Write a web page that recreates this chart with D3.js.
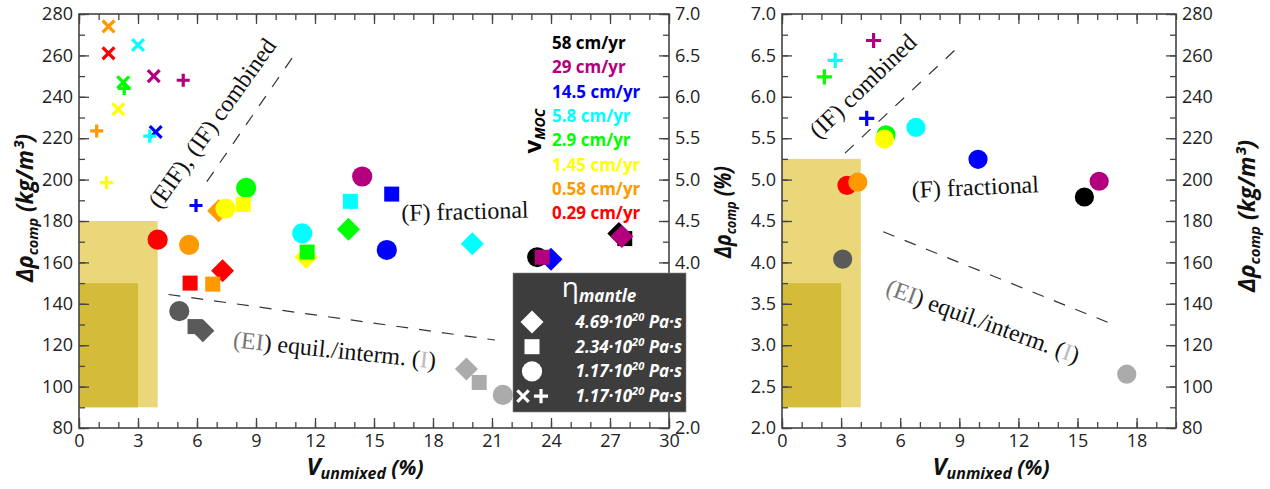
<!DOCTYPE html>
<html>
<head>
<meta charset="utf-8">
<script src="https://cdn.jsdelivr.net/npm/d3@7"></script>
<style>
  body { margin: 0; background: #fff; }
  text { font-family: "Open Sans", "DejaVu Sans", sans-serif; }
</style>
</head>
<body>
<div id="chart"></div>
<script>
// vMOC categories, top to bottom in the legend
const speedKeys = ["58", "29", "14.5", "5.8", "2.9", "1.45", "0.58", "0.29"];
const speedLabels = ["58 cm/yr", "29 cm/yr", "14.5 cm/yr", "5.8 cm/yr", "2.9 cm/yr", "1.45 cm/yr", "0.58 cm/yr", "0.29 cm/yr"];
// gray points: equilibrium (EI) and intermediate (I)
const regimeKeys = ["EI", "I"];

// mantle viscosity legend
const etaShapes = ["diamond", "square", "circle", "timesplus"];
const etaMantissa = ["4.69", "2.34", "1.17", "1.17"];
const etaExponent = "20";

// left panel: [vMOC, shape, Vunmixed (%), Δρcomp (kg/m³)]
const leftPoints = [
    ["0.58", "times", 1.5, 274],
    ["0.29", "times", 1.5, 261],
    ["5.8", "times", 3.0, 265],
    ["2.9", "times", 2.25, 247],
    ["2.9", "plus", 2.3, 244],
    ["29", "times", 3.8, 250],
    ["29", "plus", 5.3, 248],
    ["1.45", "times", 2.0, 234],
    ["0.58", "plus", 0.9, 223.5],
    ["14.5", "times", 3.9, 223],
    ["5.8", "plus", 3.6, 221],
    ["1.45", "plus", 1.4, 198.5],
    ["14.5", "plus", 5.95, 187.5],
    ["2.9", "circle", 8.5, 196],
    ["1.45", "square", 8.35, 188],
    ["0.58", "diamond", 7.1, 185],
    ["1.45", "circle", 7.45, 186],
    ["0.29", "circle", 4.0, 171],
    ["0.58", "circle", 5.6, 168.5],
    ["0.29", "diamond", 7.3, 156],
    ["0.29", "square", 5.65, 150],
    ["0.58", "square", 6.8, 149.5],
    ["EI", "circle", 5.1, 136.5],
    ["EI", "square", 5.9, 129],
    ["EI", "diamond", 6.3, 127],
    ["5.8", "circle", 11.35, 174],
    ["1.45", "diamond", 11.55, 162.5],
    ["2.9", "square", 11.6, 165],
    ["5.8", "square", 13.8, 189.5],
    ["29", "circle", 14.4, 201.5],
    ["14.5", "square", 15.9, 193],
    ["2.9", "diamond", 13.7, 176],
    ["14.5", "circle", 15.65, 166],
    ["5.8", "diamond", 20.0, 169],
    ["58", "circle", 23.3, 162.5],
    ["14.5", "diamond", 24.0, 161.5],
    ["29", "square", 23.55, 162.5],
    ["58", "diamond", 27.45, 174],
    ["58", "square", 27.75, 171.5],
    ["29", "diamond", 27.6, 172.5],
    ["I", "diamond", 19.7, 108.5],
    ["I", "square", 20.35, 102],
    ["I", "circle", 21.55, 96]
];

// right panel: [vMOC, shape, Vunmixed (%), Δρcomp (%)]
const rightPoints = [
    ["29", "plus", 4.65, 6.68],
    ["5.8", "plus", 2.7, 6.44],
    ["2.9", "plus", 2.15, 6.24],
    ["14.5", "plus", 4.3, 5.74],
    ["2.9", "circle", 5.28, 5.54],
    ["1.45", "circle", 5.2, 5.49],
    ["5.8", "circle", 6.8, 5.63],
    ["14.5", "circle", 9.95, 5.245],
    ["0.29", "circle", 3.3, 4.93],
    ["0.58", "circle", 3.85, 4.97],
    ["EI", "circle", 3.08, 4.04],
    ["58", "circle", 15.35, 4.79],
    ["29", "circle", 16.1, 4.98],
    ["I", "circle", 17.5, 2.65]
];

// shaded boxes [x0, x1, y0, y1]
const leftBoxes = [[0, 4, 90, 180], [0, 3, 90, 150]];
const rightBoxes = [[0, 4, 2.25, 5.25], [0, 3, 2.25, 3.75]];

// regime boundaries [[x0, y0], [x1, y1]]
const leftBounds = [[[6.5, 199], [11.0, 261]], [[4.55, 144.5], [21.15, 122.5]]];
const rightBounds = [[[3.2, 5.32], [8.98, 6.61]], [[5.14, 4.37], [16.6, 3.27]]];

// tick values
const xLabelsLeft = [0, 3, 6, 9, 12, 15, 18, 21, 24, 27, 30];
const xLabelsRight = [0, 3, 6, 9, 12, 15, 18];
const kgLabels = [80, 100, 120, 140, 160, 180, 200, 220, 240, 260, 280];
const pctLabels = [2.0, 2.5, 3.0, 3.5, 4.0, 4.5, 5.0, 5.5, 6.0, 6.5, 7.0];
const pctLabelsLeftPanel = [2.0, 4.0, 4.5, 5.0, 5.5, 6.0, 6.5, 7.0];

const colors = ["#000000", "#B4007E", "#0000FF", "#00FFFF", "#00FF00", "#FFFF00", "#FF9900", "#FF0000", "#5A5A5A", "#ABABAB"];
let scaleColor = d3.scaleOrdinal().domain(speedKeys.concat(regimeKeys)).range(colors);

function chart() {
    const W = 1270, H = 489;
    let svg = d3.select("#chart").append("svg")
        .attr("width", W)
        .attr("height", H);
    svg.append("rect").attr("width", W).attr("height", H).attr("fill", "#fff");

    const axisColor = "#444";
    const labelColor = "#222";

    //custom marker types
    const symDiamond = {draw(ctx, size) {
        const r = Math.sqrt(size / 2);
        ctx.moveTo(0, -r); ctx.lineTo(r, 0); ctx.lineTo(0, r); ctx.lineTo(-r, 0); ctx.closePath();
    }};
    const symTimes = {draw(ctx, size) {
        const r = Math.sqrt(size) / 2;
        ctx.moveTo(-r, -r); ctx.lineTo(r, r); ctx.moveTo(-r, r); ctx.lineTo(r, -r);
    }};
    const symPlus = {draw(ctx, size) {
        const r = Math.sqrt(size) / 2;
        ctx.moveTo(-r, 0); ctx.lineTo(r, 0); ctx.moveTo(0, -r); ctx.lineTo(0, r);
    }};
    const shapeType = {circle: d3.symbolCircle, square: d3.symbolSquare, diamond: symDiamond, times: symTimes, plus: symPlus};

    function drawPanel(cfg) {
        let g = svg.append("g");
        let x = cfg.x, y = cfg.y, y2 = cfg.y2;
        let [x0, x1] = x.range();
        let [yb, yt] = y.range();

        //shaded boxes
        g.selectAll(".box").data(cfg.boxes).join("rect")
            .attr("x", d => x(d[0]))
            .attr("y", d => y(d[3]))
            .attr("width", d => x(d[1]) - x(d[0]))
            .attr("height", d => y(d[2]) - y(d[3]))
            .attr("fill", (d, i) => i === 0 ? "#E9D77A" : "#D4BC3A");

        //ticks
        function tickAxis(axisFn, scale, values, size, transform) {
            let a = g.append("g").attr("transform", transform)
                .call(axisFn(scale).tickValues(values).tickSize(-size).tickFormat(""));
            a.select(".domain").remove();
            a.selectAll("line").attr("stroke", axisColor).attr("stroke-width", 1.3);
            return a;
        }
        function labelAxis(axisFn, scale, values, fmt, transform) {
            let a = g.append("g").attr("transform", transform)
                .call(axisFn(scale).tickValues(values).tickSize(-10).tickPadding(6).tickFormat(fmt));
            a.select(".domain").remove();
            a.selectAll("line").attr("stroke", axisColor).attr("stroke-width", 1.3);
            a.selectAll("text").attr("font-size", 18).attr("fill", labelColor)
                .style("font-family", '"Open Sans", sans-serif');
            return a;
        }
        let xMinor = d3.range(x.domain()[0], x.domain()[1] + 1, 1);
        let fmtInt = d3.format("d");
        tickAxis(d3.axisBottom, x, xMinor, 6, `translate(0,${yb})`);
        tickAxis(d3.axisTop, x, xMinor, 6, `translate(0,${yt})`);
        tickAxis(d3.axisTop, x, cfg.xLabels, 10, `translate(0,${yt})`);
        labelAxis(d3.axisBottom, x, cfg.xLabels, fmtInt, `translate(0,${yb})`);

        tickAxis(d3.axisLeft, y, cfg.yMinor, 6, `translate(${x0},0)`);
        labelAxis(d3.axisLeft, y, cfg.yLabels, cfg.yFmt, `translate(${x0},0)`);
        tickAxis(d3.axisRight, y2, cfg.y2Minor, 6, `translate(${x1},0)`);
        tickAxis(d3.axisRight, y2, cfg.y2Major, 10, `translate(${x1},0)`);
        labelAxis(d3.axisRight, y2, cfg.y2Labels, cfg.y2Fmt, `translate(${x1},0)`)
            .selectAll("line").remove();

        //frame
        g.append("rect")
            .attr("x", x0).attr("y", yt)
            .attr("width", x1 - x0).attr("height", yb - yt)
            .attr("fill", "none").attr("stroke", axisColor).attr("stroke-width", 1.6);

        //regime boundaries
        g.selectAll(".bound").data(cfg.bounds).join("path")
            .attr("fill", "none")
            .attr("stroke", "#333")
            .attr("stroke-width", 1.2)
            .attr("stroke-dasharray", "12,11")
            .attr("d", d3.line().x(d => x(d[0])).y(d => y(d[1])));

        //points
        g.selectAll(".pt").data(cfg.points).join("path")
            .attr("transform", d => `translate(${x(d[2])},${y(d[3])})`)
            .attr("d", d => d3.symbol().type(shapeType[d[1]]).size(cfg.sizes[d[1]])())
            .attr("fill", d => (d[1] === "times" || d[1] === "plus") ? "none" : scaleColor(d[0]))
            .attr("stroke", d => (d[1] === "times" || d[1] === "plus") ? scaleColor(d[0]) : "none")
            .attr("stroke-width", 3.2);
        return g;
    }

    // LEFT PANEL
    let xL = d3.scaleLinear().domain([0, 30]).range([79, 669]);
    let yL = d3.scaleLinear().domain([80, 280]).range([428, 14]);
    let yL2 = d3.scaleLinear().domain([2, 7]).range([428, 14]);
    let left = drawPanel({
        x: xL, y: yL, y2: yL2,
        boxes: leftBoxes, bounds: leftBounds, points: leftPoints,
        xLabels: xLabelsLeft,
        yLabels: kgLabels, yMinor: d3.range(80, 281, 10), yFmt: d3.format("d"),
        y2Labels: pctLabelsLeftPanel, y2Major: pctLabels, y2Minor: d3.range(2, 7.01, 0.25), y2Fmt: d3.format(".1f"),
        sizes: {circle: 320, square: 225, diamond: 265, times: 140, plus: 170}
    });

    // RIGHT PANEL
    let xR = d3.scaleLinear().domain([0, 20]).range([782, 1176]);
    let yR = d3.scaleLinear().domain([2, 7]).range([428, 14]);
    let yR2 = d3.scaleLinear().domain([80, 280]).range([428, 14]);
    let right = drawPanel({
        x: xR, y: yR, y2: yR2,
        boxes: rightBoxes, bounds: rightBounds, points: rightPoints,
        xLabels: xLabelsRight,
        yLabels: pctLabels, yMinor: d3.range(2, 7.01, 0.25), yFmt: d3.format(".1f"),
        y2Labels: kgLabels, y2Major: kgLabels, y2Minor: d3.range(80, 281, 10), y2Fmt: d3.format("d"),
        sizes: {circle: 290, square: 225, diamond: 265, times: 180, plus: 230}
    });

    //regime annotations (serif)
    const serif = '"Liberation Serif", "Times New Roman", serif';
    function note(g, px, py, angle, anchor, parts) {
        let t = g.append("text")
            .attr("transform", `translate(${px},${py}) rotate(${angle})`)
            .attr("text-anchor", anchor)
            .style("font-family", serif)
            .attr("font-size", 24)
            .attr("fill", "#111");
        parts.forEach(p => t.append("tspan").attr("fill", p[1]).text(p[0]));
    }
    const eiParts = [["(EI", "#777"], [") equil./interm. (", "#111"], ["I", "#BBB"], [")", "#111"]];
    note(left, xL(7.1), yL(225), -54.5, "middle", [["(EIF), (IF) combined", "#111"]]);
    note(left, xL(16.4), yL(180), -1.5, "start", [["(F) fractional", "#111"]]);
    note(left, xL(7.8), yL(119), 6, "start", eiParts);
    note(right, xR(4.39), yR(6.06), -44, "middle", [["(IF) combined", "#111"]]);
    note(right, xR(6.6), yR(4.78), -2.5, "start", [["(F) fractional", "#111"]]);
    note(right, xR(5.2), yR(3.62), 20, "start", eiParts);

    //vMOC legend
    let leg = svg.append("g");
    leg.selectAll("text.sp").data(speedLabels).join("text")
        .attr("x", 552)
        .attr("y", (d, i) => 49 + i * 24.3)
        .attr("font-size", 17)
        .attr("font-weight", 700)
        .attr("fill", (d, i) => scaleColor(speedKeys[i]))
        .text(d => d);
    let vt = leg.append("text")
        .attr("transform", "translate(541,131) rotate(-90)")
        .attr("text-anchor", "middle")
        .attr("font-weight", 700)
        .attr("fill", "#000");
    vt.append("tspan").attr("font-size", 24).text("v");
    vt.append("tspan").attr("font-size", 14).attr("font-style", "italic").attr("dy", 4).text("MOC");

    //eta legend
    let eg = svg.append("g");
    eg.append("rect")
        .attr("x", 513).attr("y", 273).attr("width", 173).attr("height", 139)
        .attr("fill", "#3D3D3D").attr("stroke", "#888").attr("stroke-width", 0.6);
    let et = eg.append("text").attr("x", 599).attr("y", 297)
        .attr("text-anchor", "middle").attr("fill", "#fff");
    et.append("tspan").attr("font-size", 28).text("η");
    et.append("tspan").attr("font-size", 17).attr("font-weight", 700).attr("font-style", "italic").attr("dy", 5).text("mantle");
    etaShapes.forEach(function(s, i) {
        let cy = 322 + i * 24.7;
        if (s === "timesplus") {
            eg.append("path").attr("transform", `translate(523,${cy})`)
                .attr("d", d3.symbol().type(symTimes).size(130)())
                .attr("stroke", "#fff").attr("stroke-width", 3.2).attr("fill", "none");
            eg.append("path").attr("transform", `translate(541,${cy})`)
                .attr("d", d3.symbol().type(symPlus).size(200)())
                .attr("stroke", "#fff").attr("stroke-width", 3.2).attr("fill", "none");
        } else {
            let sz = {diamond: 265, square: 225, circle: 320}[s];
            eg.append("path").attr("transform", `translate(532,${cy})`)
                .attr("d", d3.symbol().type(shapeType[s]).size(sz)())
                .attr("fill", "#fff");
        }
        let t = eg.append("text").attr("x", 682).attr("y", cy + 6)
            .attr("text-anchor", "end")
            .attr("fill", "#fff").attr("font-weight", 700).attr("font-style", "italic")
            .attr("font-size", 17);
        t.append("tspan").text(etaMantissa[i] + "·10");
        t.append("tspan").attr("font-size", 11).attr("dy", -7).text(etaExponent);
        t.append("tspan").attr("dy", 7).text(" Pa·s");
    });

    //axis titles
    function rhoTitle(px, py, unit, len) {
        let t = svg.append("text")
            .attr("transform", `translate(${px},${py}) rotate(-90)`)
            .attr("text-anchor", "middle")
            .attr("font-weight", 700).attr("font-style", "italic")
            .attr("fill", "#111")
            .attr("textLength", len)
            .attr("lengthAdjust", "spacingAndGlyphs");
        t.append("tspan").attr("font-size", 23).text("Δρ");
        t.append("tspan").attr("font-size", 15).attr("dy", 5).text("comp");
        t.append("tspan").attr("font-size", 23).attr("dy", -5).text(" " + unit);
    }
    rhoTitle(33, 208, "(kg/m³)", 148);
    rhoTitle(731, 212, "(%)", 92);
    rhoTitle(1255, 216, "(kg/m³)", 152);

    function vTitle(px, py) {
        let t = svg.append("text")
            .attr("x", px).attr("y", py)
            .attr("text-anchor", "middle")
            .attr("font-weight", 700).attr("font-style", "italic")
            .attr("fill", "#111")
            .attr("textLength", 117)
            .attr("lengthAdjust", "spacingAndGlyphs");
        t.append("tspan").attr("font-size", 24).text("V");
        t.append("tspan").attr("font-size", 16).attr("dy", 4).text("unmixed");
        t.append("tspan").attr("font-size", 21).attr("dy", -4).text("  (%)");
    }
    vTitle(365, 475);
    vTitle(991, 475);
}
chart();
</script>
</body>
</html>
